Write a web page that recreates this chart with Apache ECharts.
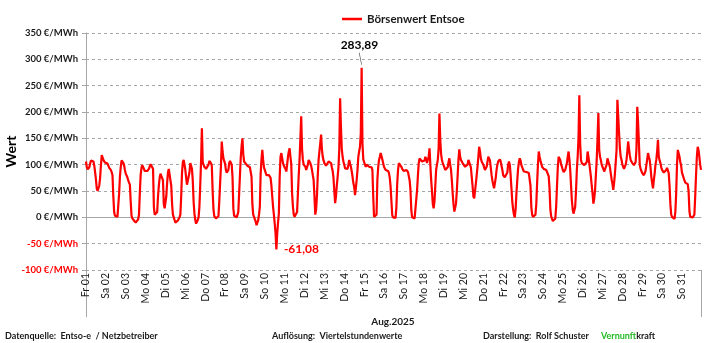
<!DOCTYPE html>
<html><head><meta charset="utf-8">
<script src="https://cdn.jsdelivr.net/npm/echarts@6/dist/echarts.min.js"></script>
<style>html,body{margin:0;padding:0;background:#fff}#c{width:713px;height:343px}</style>
</head><body><div id="c"></div>
<script>
// ---- data (hourly estimates, €/MWh) ----
const dayLabels = ['Fr 01','Sa 02','So 03','Mo 04','Di 05','Mi 06','Do 07','Fr 08','Sa 09','So 10','Mo 11','Di 12','Mi 13','Do 14','Fr 15','Sa 16','So 17','Mo 18','Di 19','Mi 20','Do 21','Fr 22','Sa 23','So 24','Mo 25','Di 26','Mi 27','Do 28','Fr 29','Sa 30','So 31'];
const d01 = [106,95,91,90,95,102,108,110,108,106,98,86,72,55,50,49,60,74,98,118,114,109,106,104];
const d02 = [104,103,102,98,94,91,90,86,80,40,10,3,1,0,1,3,45,78,96,108,110,104,99,90];
const d03 = [83,82,76,70,66,62,30,3,-2,-4,-6,-8,-10,-11,-9,-4,5,45,80,94,99,96,92,88];
const d04 = [87,86,88,88,92,97,101,103,100,92,20,5,4,4,10,40,60,75,83,84,80,70,25,17];
const d05 = [20,40,65,85,92,93,90,60,25,5,0,-5,-10,-12,-10,-6,-3,0,5,40,85,105,109,100];
const d06 = [90,75,62,60,64,85,103,100,92,70,30,7,-5,-12,-10,-5,0,20,60,105,169,105,100,96];
const d07 = [95,92,90,94,100,107,109,103,98,50,15,2,0,-2,-3,-1,2,30,64,96,144,125,112,109];
const d08 = [102,90,85,83,90,103,107,109,100,77,17,3,1,0,0,1,10,45,80,115,135,150,120,106];
const d09 = [106,102,99,98,97,96,95,93,77,25,5,1,0,-8,-15,-10,-6,5,20,83,110,128,109,95];
const d10 = [90,85,80,80,80,80,80,75,60,40,20,5,-12,-30,-61.08,-31,-10,7,77,115,122,125,103,98];
const d11 = [96,92,87,100,115,125,131,115,100,45,20,5,1,0,1,10,45,80,109,150,192,130,109,100];
const d12 = [98,96,90,87,100,109,106,103,98,90,80,71,40,5,15,40,80,109,125,140,157,130,115,108];
const d13 = [103,100,98,96,100,106,109,106,103,95,88,75,50,27,40,60,77,95,130,226,172,130,115,106];
const d14 = [100,93,90,90,92,100,109,102,96,88,77,65,58,42,55,71,90,115,125,134,160,283.89,140,110];
const d15 = [105,100,96,100,103,100,96,98,99,95,90,40,1,-1,-2,5,71,95,109,115,122,125,110,103];
const d16 = [96,93,90,90,90,88,84,75,58,30,4,0,-2,-2,-1,20,65,90,103,104,104,96,92,90];
const d17 = [88,87,88,90,88,86,84,70,52,14,0,-2,-2,-2,-2,0,52,80,103,112,110,109,106,103];
const d18 = [103,108,115,110,103,105,115,131,100,71,50,25,17,30,60,90,100,109,130,197,147,120,109,103];
const d19 = [100,95,90,90,90,95,105,112,100,90,70,45,25,11,18,26,50,80,110,129,115,109,106,103];
const d20 = [103,100,96,94,93,100,109,108,106,95,77,60,40,36,50,64,80,96,115,134,125,112,106,103];
const d21 = [100,95,90,92,96,105,115,112,108,95,80,70,62,55,65,75,90,100,106,108,110,106,98,90];
const d22 = [80,77,76,77,78,85,100,106,100,80,55,30,15,5,0,15,45,70,92,105,112,108,99,95];
const d23 = [92,87,87,87,86,86,85,84,82,60,20,5,1,0,1,5,25,65,100,125,115,108,102,96];
const d24 = [94,92,91,90,90,90,87,78,55,15,2,-3,-7,-9,-6,-2,20,58,95,115,112,109,100,96];
const d25 = [90,86,84,90,97,103,115,125,110,90,60,32,15,7,10,20,50,90,115,150,232,140,109,103];
const d26 = [103,100,99,97,96,105,125,115,103,90,77,60,45,26,35,52,80,109,150,198,128,115,109,100];
const d27 = [96,92,87,88,90,100,112,110,109,95,83,72,64,52,65,83,105,128,223,223,160,131,115,109];
const d28 = [100,96,92,90,100,109,125,144,130,118,109,106,103,100,99,99,105,128,210,180,140,100,92,88];
const d29 = [84,82,80,80,88,99,110,122,115,109,95,77,65,55,70,83,100,109,125,147,115,108,103,95];
const d30 = [90,87,85,85,86,90,94,96,84,60,25,5,1,0,-2,-3,10,45,100,128,125,115,105,98];
const d31 = [85,80,75,70,66,65,64,63,50,12,1,0,0,0,0,5,40,80,115,134,128,115,100,90];
const seriesName = 'Börsenwert Entsoe';
const monthLabel = 'Aug.2025';
const yMin = -100, yMax = 350, yStep = 50, yUnit = ' €/MWh';
const footer1 = 'Datenquelle:  Entso-e  / Netzbetreiber';
const footer2 = 'Auflösung:  Viertelstundenwerte';
const footer3 = 'Darstellung:  Rolf Schuster';

// ---- build ----
const days = [d01,d02,d03,d04,d05,d06,d07,d08,d09,d10,d11,d12,d13,d14,d15,d16,d17,d18,d19,d20,d21,d22,d23,d24,d25,d26,d27,d28,d29,d30,d31];
const values = [].concat(...days);
const cats = [];
days.forEach((d, i) => d.forEach((v, h) => cats.push(dayLabels[i] + ' ' + String(h).padStart(2, '0') + ':00')));
const fmt = v => String(v).replace('.', ',');
const FF = 'Lato, "Open Sans", sans-serif';
const txt = '#1a1a1a';
const gridGray = '#a6a6a6';

const chart = echarts.init(document.getElementById('c'), null, {renderer: 'canvas'});
chart.setOption({
  animation: false,
  textStyle: {fontFamily: FF},
  grid: {left: 86, right: 12, top: 33, bottom: 73, containLabel: false, outerBoundsMode: 'none'},
  legend: {
    left: 337, top: 8, icon: 'rect', itemWidth: 20, itemHeight: 2.5,
    textStyle: {fontSize: 11.5, fontWeight: 'bold', color: txt, fontFamily: FF},
    data: [seriesName]
  },
  xAxis: [{
    type: 'category', data: cats, boundaryGap: false,
    axisLine: {show: false, onZero: false},
    axisTick: {show: true, interval: i => i === 0 || i === cats.length - 1, length: 47, lineStyle: {color: gridGray}},
    axisLabel: {interval: i => i % 24 === 0, formatter: (v, i) => dayLabels[Math.floor(i / 24)], rotate: 90, margin: 3, fontSize: 10.5, color: txt, fontFamily: FF},
    splitLine: {show: false}
  }, {
    type: 'category', data: cats, boundaryGap: false, position: 'bottom',
    axisLine: {show: true, onZero: true, lineStyle: {color: gridGray, width: 1}},
    axisTick: {show: false}, axisLabel: {show: false}, splitLine: {show: false}
  }],
  yAxis: {
    type: 'value', min: yMin, max: yMax, interval: yStep,
    name: 'Wert', nameLocation: 'middle', nameGap: 68, nameMoveOverlap: false,
    nameTextStyle: {fontSize: 14, fontWeight: 'bold', color: '#000', fontFamily: FF},
    axisLine: {show: true, lineStyle: {color: gridGray}},
    axisTick: {show: true, length: 4, lineStyle: {color: gridGray}},
    axisLabel: {
      margin: 8,
      formatter: v => (v < 0 ? '{n|' : '{p|') + v + yUnit + '}',
      rich: {
        n: {color: '#ff0000', fontSize: 9.5, fontWeight: 'bold', fontFamily: FF},
        p: {color: txt, fontSize: 9.5, fontWeight: 'bold', fontFamily: FF}
      }
    },
    splitLine: {show: true, lineStyle: {color: gridGray, type: [3, 3], width: 1}}
  },
  series: [{
    name: seriesName, type: 'line', data: values, xAxisIndex: 0,
    showSymbol: false, symbol: 'none',
    lineStyle: {color: '#ff0000', width: 2.2},
    itemStyle: {color: '#ff0000'},
    markPoint: {
      symbol: 'circle', symbolSize: 1, itemStyle: {color: 'rgba(0,0,0,0)'},
      animation: false, silent: true,
      data: [
        {type: 'max', symbol: 'path://M0,0L2,10', symbolSize: [2.4, 12], symbolOffset: [-1.2, -9],
          itemStyle: {color: 'rgba(0,0,0,0)', borderColor: '#404040', borderWidth: 1},
          label: {show: true, position: 'top', distance: 1, offset: [-1, 0], formatter: p => fmt(p.value), color: '#000', fontSize: 12, fontWeight: 'bold', fontFamily: FF}},
        {type: 'min',
          label: {show: true, position: 'right', distance: 7, formatter: p => fmt(p.value), color: '#ff0000', fontSize: 12, fontWeight: 'bold', fontFamily: FF}}
      ]
    }
  }],
  graphic: [
    {type: 'text', x: 393, y: 321.5, style: {text: monthLabel, align: 'center', verticalAlign: 'middle', textAlign: 'center', textVerticalAlign: 'middle', font: 'bold 10px ' + FF, fill: txt}},
    {type: 'text', x: 5, y: 336.5, style: {text: footer1, verticalAlign: 'middle', textVerticalAlign: 'middle', font: 'bold 9px ' + FF, fill: txt}},
    {type: 'text', x: 272, y: 336.5, style: {text: footer2, verticalAlign: 'middle', textVerticalAlign: 'middle', font: 'bold 9px ' + FF, fill: txt}},
    {type: 'text', x: 483, y: 336.5, style: {text: footer3, verticalAlign: 'middle', textVerticalAlign: 'middle', font: 'bold 9px ' + FF, fill: txt}},
    {type: 'text', x: 601, y: 336.5, style: {text: '{g|Vernunft}{k|kraft}', verticalAlign: 'middle', textVerticalAlign: 'middle',
      rich: {g: {fill: '#22bb22', color: '#22bb22', font: 'bold 9px ' + FF}, k: {fill: txt, color: txt, font: 'bold 9px ' + FF}}}}
  ]
});
</script>
</body></html>
